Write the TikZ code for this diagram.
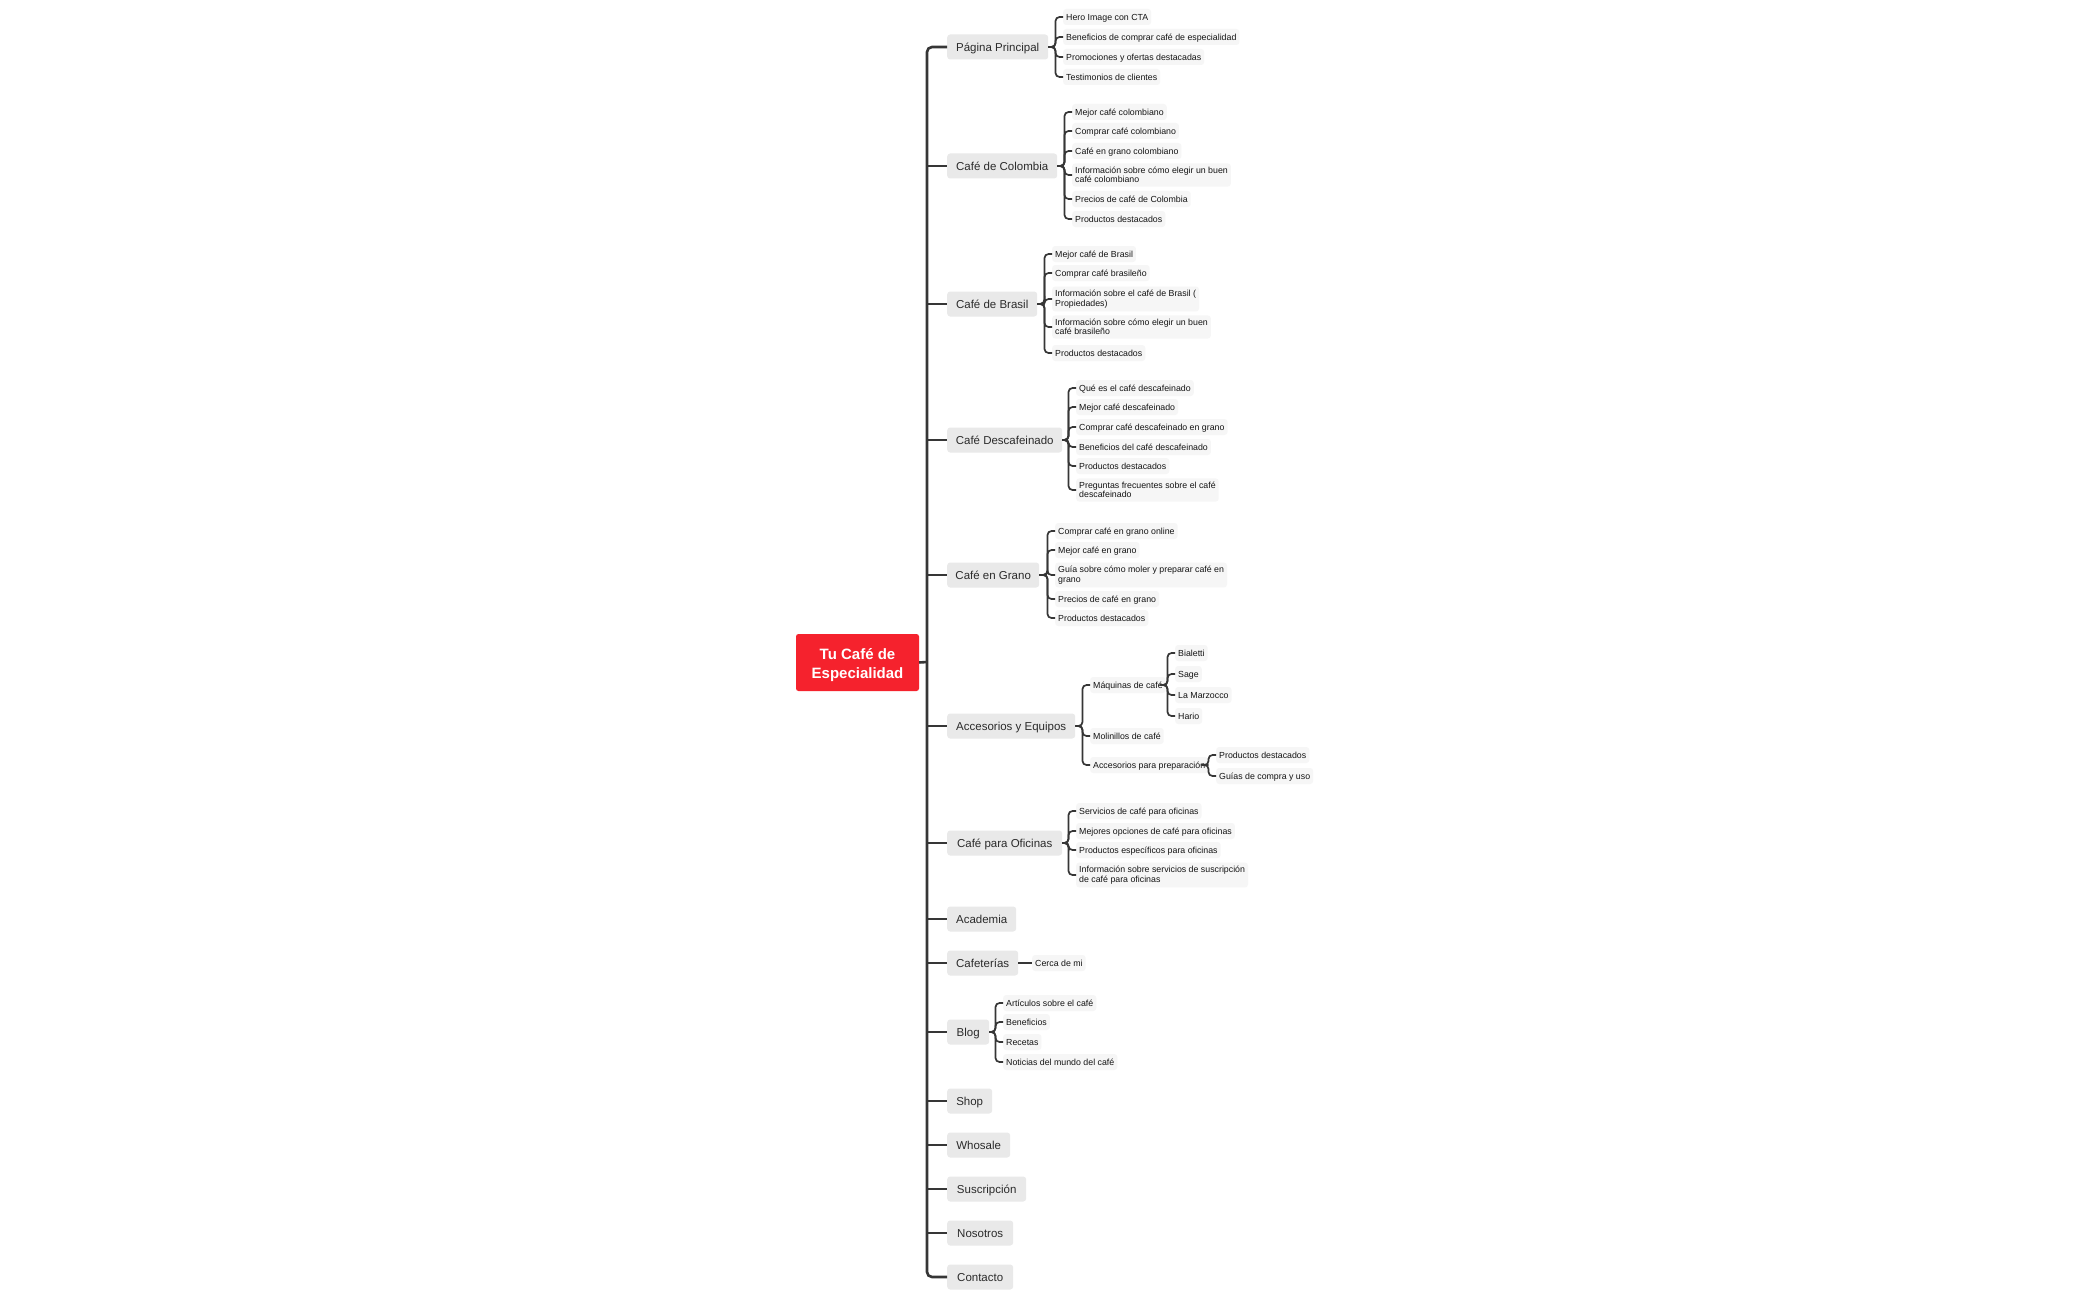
\documentclass[tikz,border=0pt]{standalone}
\usepackage{fontspec}
\usetikzlibrary{calc}
\newfontfamily\lsans{Liberation Sans}
\definecolor{rootred}{HTML}{F5222D}
\definecolor{brfill}{HTML}{E9E9E9}
\definecolor{lffill}{HTML}{F6F6F6}
\definecolor{lnc}{HTML}{363636}
\definecolor{txc}{HTML}{2B2B2B}
\definecolor{lftx}{HTML}{141414}
\begin{document}
\begin{tikzpicture}[x=1pt,y=-1pt,
 rootbox/.style={fill=rootred, rounded corners=2.5pt, text=white, font=\lsans\bfseries\fontsize{15}{19.5}\selectfont, minimum width=123pt, minimum height=57pt, inner sep=0pt, text height=24pt, text depth=11.5pt},
 branch/.style={fill=brfill, rounded corners=3pt, text=txc, font=\lsans\fontsize{11.5}{13}\selectfont, inner xsep=0pt, inner ysep=7pt, text height=9.6pt, text depth=1.4pt, anchor=west, minimum width=#1},
 lfbase/.style={fill=lffill, rounded corners=3pt, text=lftx, font=\lsans\fontsize{8.8}{9.5}\selectfont, inner xsep=3pt, inner ysep=3.5pt, anchor=west, align=left},
 leaf/.style={lfbase, text height=7.6pt, text depth=1.4pt},
 leaftwo/.style={lfbase},
 trunk/.style={draw=lnc, line width=2.6pt, rounded corners=5pt},
 brk/.style={draw=lnc, line width=1.7pt, rounded corners=4pt}]
\fill[white] (0,0) rectangle (2100,1300);
\useasboundingbox (0,0) rectangle (2100,1300);

% root
\node[rootbox] (root) at (857.5,662.5) {\begin{tabular}{@{}c@{}}Tu Café de\\Especialidad\end{tabular}};
\coordinate (tx) at (927,662);

% branches
\node[branch=101pt] (pp) at (947,47) {Página Principal};
\node[branch=110pt] (co) at (947,166) {Café de Colombia};
\node[branch=90pt] (br) at (947,304) {Café de Brasil};
\node[branch=115pt] (de) at (947,440) {Café Descafeinado};
\node[branch=92pt] (gr) at (947,575) {Café en Grano};
\node[branch=128pt] (ac) at (947,726) {Accesorios y Equipos};
\node[branch=115pt] (of) at (947,843) {Café para Oficinas};
\node[branch=69pt] (aca) at (947,919) {Academia};
\node[branch=71pt] (caf) at (947,963) {Cafeterías};
\node[branch=42pt] (bl) at (947,1032) {Blog};
\node[branch=45pt] (sh) at (947,1101) {Shop};
\node[branch=63pt] (wh) at (947,1145) {Whosale};
\node[branch=79pt] (su) at (947,1189) {Suscripción};
\node[branch=66pt] (no) at (947,1233) {Nosotros};
\node[branch=66pt] (ct) at (947,1277) {Contacto};

% Página Principal
\node[leaf] (pp1) at (1063,17) {Hero Image con CTA};
\node[leaf] (pp2) at (1063,37) {Beneficios de comprar café de especialidad};
\node[leaf] (pp3) at (1063,57) {Promociones y ofertas destacadas};
\node[leaf] (pp4) at (1063,77) {Testimonios de clientes};

% Café de Colombia
\node[leaf] (co1) at (1072,112) {Mejor café colombiano};
\node[leaf] (co2) at (1072,131) {Comprar café colombiano};
\node[leaf] (co3) at (1072,151) {Café en grano colombiano};
\node[leaftwo] (co4) at (1072,175) {Información sobre cómo elegir un buen\\café colombiano};
\node[leaf] (co5) at (1072,199) {Precios de café de Colombia};
\node[leaf] (co6) at (1072,219) {Productos destacados};

% Café de Brasil
\node[leaf] (br1) at (1052,254) {Mejor café de Brasil};
\node[leaf] (br2) at (1052,273) {Comprar café brasileño};
\node[leaftwo] (br3) at (1052,299) {Información sobre el café de Brasil (\\Propiedades)};
\node[leaftwo] (br4) at (1052,327) {Información sobre cómo elegir un buen\\café brasileño};
\node[leaf] (br5) at (1052,353) {Productos destacados};

% Café Descafeinado
\node[leaf] (de1) at (1076,388) {Qué es el café descafeinado};
\node[leaf] (de2) at (1076,407) {Mejor café descafeinado};
\node[leaf] (de3) at (1076,427) {Comprar café descafeinado en grano};
\node[leaf] (de4) at (1076,447) {Beneficios del café descafeinado};
\node[leaf] (de5) at (1076,466) {Productos destacados};
\node[leaftwo] (de6) at (1076,490) {Preguntas frecuentes sobre el café\\descafeinado};

% Café en Grano
\node[leaf] (gr1) at (1055,531) {Comprar café en grano online};
\node[leaf] (gr2) at (1055,550) {Mejor café en grano};
\node[leaftwo] (gr3) at (1055,575) {Guía sobre cómo moler y preparar café en\\grano};
\node[leaf] (gr4) at (1055,599) {Precios de café en grano};
\node[leaf] (gr5) at (1055,618) {Productos destacados};

% Accesorios y Equipos
\node[leaf] (mq) at (1090,685) {Máquinas de café};
\node[leaf] (mo) at (1090,736) {Molinillos de café};
\node[leaf] (ap) at (1090,765) {Accesorios para preparación};
\node[leaf] (mq1) at (1175,653) {Bialetti};
\node[leaf] (mq2) at (1175,674) {Sage};
\node[leaf] (mq3) at (1175,695) {La Marzocco};
\node[leaf] (mq4) at (1175,716) {Hario};
\node[leaf] (ap1) at (1216,755) {Productos destacados};
\node[leaf] (ap2) at (1216,776) {Guías de compra y uso};

% Café para Oficinas
\node[leaf] (of1) at (1076,811) {Servicios de café para oficinas};
\node[leaf] (of2) at (1076,831) {Mejores opciones de café para oficinas};
\node[leaf] (of3) at (1076,850) {Productos específicos para oficinas};
\node[leaftwo] (of4) at (1076,875) {Información sobre servicios de suscripción\\de café para oficinas};

% Cafeterías
\node[leaf] (cer) at (1032,963) {Cerca de mi};

% Blog
\node[leaf] (bl1) at (1003,1003) {Artículos sobre el café};
\node[leaf] (bl2) at (1003,1022) {Beneficios};
\node[leaf] (bl3) at (1003,1042) {Recetas};
\node[leaf] (bl4) at (1003,1062) {Noticias del mundo del café};

% trunk
\draw[trunk] (root.east) -- (tx);
\draw[trunk] (pp.west) -- (pp.west -| tx) -- (ct.west -| tx) -- (ct.west);
\foreach \b in {co,br,de,gr,ac,of,aca,caf,bl,sh,wh,su,no}
  \draw[trunk] (tx |- \b.west) -- (\b.west);

% brackets
\foreach \l in {pp1,pp2,pp3,pp4}
  \draw[brk] (pp.east) -- ($(pp1.west |- pp.east)+(-7.5,0)$) |- (\l.west);
\foreach \l in {co1,co2,co3,co4,co5,co6}
  \draw[brk] (co.east) -- ($(co1.west |- co.east)+(-7.5,0)$) |- (\l.west);
\foreach \l in {br1,br2,br3,br4,br5}
  \draw[brk] (br.east) -- ($(br1.west |- br.east)+(-7.5,0)$) |- (\l.west);
\foreach \l in {de1,de2,de3,de4,de5,de6}
  \draw[brk] (de.east) -- ($(de1.west |- de.east)+(-7.5,0)$) |- (\l.west);
\foreach \l in {gr1,gr2,gr3,gr4,gr5}
  \draw[brk] (gr.east) -- ($(gr1.west |- gr.east)+(-7.5,0)$) |- (\l.west);
\foreach \l in {mq,mo,ap}
  \draw[brk] (ac.east) -- ($(mq.west |- ac.east)+(-7.5,0)$) |- (\l.west);
\foreach \l in {mq1,mq2,mq3,mq4}
  \draw[brk] (mq.east) -- ($(mq1.west |- mq.east)+(-7.5,0)$) |- (\l.west);
\foreach \l in {ap1,ap2}
  \draw[brk] (ap.east) -- ($(ap1.west |- ap.east)+(-7.5,0)$) |- (\l.west);
\foreach \l in {of1,of2,of3,of4}
  \draw[brk] (of.east) -- ($(of1.west |- of.east)+(-7.5,0)$) |- (\l.west);
\draw[brk] (caf.east) -- (cer.west);
\foreach \l in {bl1,bl2,bl3,bl4}
  \draw[brk] (bl.east) -- ($(bl1.west |- bl.east)+(-7.5,0)$) |- (\l.west);
\end{tikzpicture}
\end{document}
